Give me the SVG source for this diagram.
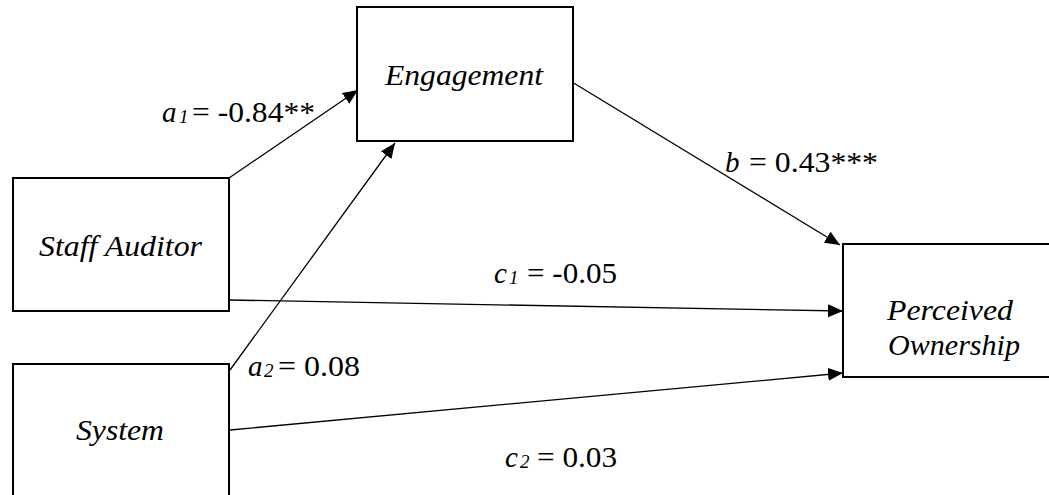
<svg xmlns="http://www.w3.org/2000/svg" width="1049" height="495" viewBox="0 0 1049 495">
<style>
.box{fill:#fff;stroke:#000;stroke-width:2}
text{font-family:'Liberation Serif','DejaVu Serif',serif;fill:#000;font-size:29px}
.name{font-style:italic;text-anchor:middle}
.it{font-style:italic}
.sub{font-style:italic;font-size:19px}
.edge{stroke:#000;stroke-width:1.3;fill:none;marker-end:url(#ah)}
</style>
<defs>
<marker id="ah" markerUnits="userSpaceOnUse" markerWidth="16" markerHeight="14" refX="15" refY="6.5" orient="auto">
<path d="M0,0 L15,6.5 L0,13 z" fill="#000"/>
</marker>
</defs>
<rect width="1049" height="495" fill="#fff"/>
<g id="connectors">
<line class="edge" x1="229" y1="178" x2="358" y2="90"/>
<line class="edge" x1="230" y1="370" x2="395" y2="143"/>
<line class="edge" x1="572" y1="82" x2="840" y2="245"/>
<line class="edge" x1="228" y1="300" x2="843" y2="311"/>
<line class="edge" x1="230" y1="430" x2="843" y2="373"/>
</g>
<g id="node-engagement">
<rect class="box" x="357" y="7" width="216" height="134"/>
<text class="name" x="464" y="85" textLength="158" lengthAdjust="spacingAndGlyphs">Engagement</text>
</g>
<g id="node-staff-auditor">
<rect class="box" x="13" y="178" width="216" height="133"/>
<text class="name" x="120.5" y="256" textLength="163" lengthAdjust="spacingAndGlyphs">Staff Auditor</text>
</g>
<g id="node-system">
<rect class="box" x="13" y="364" width="216" height="140"/>
<text class="name" x="120" y="440" textLength="88" lengthAdjust="spacingAndGlyphs">System</text>
</g>
<g id="node-perceived-ownership">
<rect class="box" x="843" y="244" width="216" height="133"/>
<text class="name" x="950" y="320" textLength="126" lengthAdjust="spacingAndGlyphs">Perceived</text>
<text class="name" x="954" y="355" textLength="132" lengthAdjust="spacingAndGlyphs">Ownership</text>
</g>
<g id="labels">
<g id="label-a1">
<text class="it" x="162" y="122">a</text>
<text class="sub" x="179" y="123">1</text>
<text x="192" y="122" textLength="123" lengthAdjust="spacingAndGlyphs">= -0.84**</text>
</g>
<g id="label-b">
<text class="it" x="725" y="172">b</text>
<text x="749" y="172" textLength="129" lengthAdjust="spacingAndGlyphs">= 0.43***</text>
</g>
<g id="label-c1">
<text class="it" x="494" y="283">c</text>
<text class="sub" x="509" y="284">1</text>
<text x="527" y="283" textLength="90" lengthAdjust="spacingAndGlyphs">= -0.05</text>
</g>
<g id="label-a2">
<text class="it" x="248" y="376">a</text>
<text class="sub" x="264" y="377">2</text>
<text x="278" y="376" textLength="82" lengthAdjust="spacingAndGlyphs">= 0.08</text>
</g>
<g id="label-c2">
<text class="it" x="505" y="467">c</text>
<text class="sub" x="520" y="468">2</text>
<text x="537" y="467" textLength="80" lengthAdjust="spacingAndGlyphs">= 0.03</text>
</g>
</g>
</svg>
